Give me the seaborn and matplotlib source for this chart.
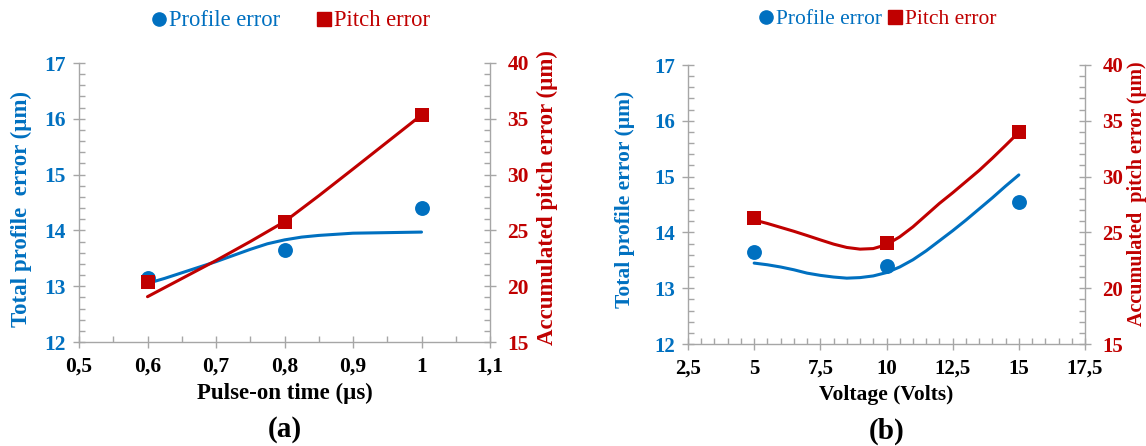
import matplotlib
matplotlib.use("Agg")
import matplotlib.pyplot as plt
from matplotlib.ticker import MultipleLocator, FuncFormatter
from matplotlib.lines import Line2D
import seaborn as sns
import pandas as pd

# ---------------- data ----------------
# Panel (a): pulse-on time
pulse_x = [0.6, 0.8, 1.0]
pulse_profile = [13.14, 13.64, 14.40]
pulse_pitch = [20.40, 25.78, 35.34]
# trend curves
pulse_fit_x = [0.6, 0.625, 0.65, 0.675, 0.70, 0.725, 0.75, 0.775, 0.80, 0.825,
               0.85, 0.875, 0.90, 0.95, 1.0]
pulse_fit_profile = [13.05, 13.14, 13.24, 13.34, 13.44, 13.55, 13.66, 13.76, 13.83,
                     13.88, 13.91, 13.93, 13.95, 13.96, 13.97]
pulse_fit_pitch_x = [0.6, 0.65, 0.70, 0.75, 0.80, 0.85, 0.90, 0.95, 1.0]
pulse_fit_pitch = [19.06, 20.68, 22.30, 24.00, 25.78, 28.10, 30.50, 32.92, 35.34]

# Panel (b): voltage
volt_x = [5, 10, 15]
volt_profile = [13.64, 13.39, 14.54]
volt_pitch = [26.26, 24.08, 33.97]
volt_fit_x = [5, 5.5, 6, 6.5, 7, 7.5, 8, 8.5, 9, 9.5, 10, 10.5, 11, 11.5, 12,
              12.5, 13, 13.5, 14, 14.5, 15]
volt_fit_profile = [13.45, 13.42, 13.38, 13.33, 13.27, 13.23, 13.20, 13.18, 13.19,
                    13.22, 13.28, 13.38, 13.51, 13.67, 13.85, 14.03, 14.22, 14.42,
                    14.62, 14.83, 15.03]
volt_fit_pitch_x = [5, 5.5, 6, 6.5, 7, 7.5, 8, 8.5, 9, 9.5, 10, 10.5, 11, 11.5, 12,
                    12.5, 13, 13.5, 14, 14.5, 15]
volt_fit_pitch = [26.11, 25.80, 25.45, 25.10, 24.72, 24.33, 23.95, 23.65, 23.50,
                  23.55, 23.90, 24.60, 25.50, 26.55, 27.60, 28.55, 29.55, 30.55,
                  31.65, 32.80, 33.97]

legend_labels = ["Profile error", "Pitch error"]
xlabels = ["Pulse-on time (\u00b5s)", "Voltage (Volts)"]
panel_tags = ["(a)", "(b)"]
ylabel_left_a = "Total profile  error (\u00b5m)"
ylabel_left_b = "Total profile error (\u00b5m)"
ylabel_right = "Accumulated pitch error (\u00b5m)"
ylabel_right_b = "Accumulated  pitch error (\u00b5m)"

BLUE = "#0070C0"
RED = "#C00000"
GREY = "#A6A6A6"

sns.set_theme(style="white")
plt.rcParams["font.family"] = ["Liberation Serif", "DejaVu Serif"]

fig = plt.figure(figsize=(11.46, 4.46), dpi=100)

comma_fmt = FuncFormatter(lambda v, p: f"{v:g}".replace(".", ","))


def style_axes(ax, ax2, xlim, xmajor, xminor, tfs):
    ax.set_xlim(*xlim)
    ax.set_ylim(12, 17)
    ax2.set_ylim(15, 40)
    ax.xaxis.set_major_locator(MultipleLocator(xmajor))
    ax.xaxis.set_minor_locator(MultipleLocator(xminor))
    ax.xaxis.set_major_formatter(comma_fmt)
    ax.yaxis.set_major_locator(MultipleLocator(1))
    ax.yaxis.set_minor_locator(MultipleLocator(0.2))
    ax2.yaxis.set_major_locator(MultipleLocator(5))
    ax2.yaxis.set_minor_locator(MultipleLocator(1))
    for a in (ax, ax2):
        for s in a.spines.values():
            s.set_color(GREY)
            s.set_linewidth(1.0)
        a.spines["top"].set_visible(False)
    ax.spines["right"].set_visible(False)
    ax2.spines["left"].set_visible(False)
    ax2.spines["bottom"].set_visible(False)
    ax.tick_params(axis="x", which="major", direction="inout", length=9, width=1,
                   color=GREY, labelsize=tfs, labelcolor="black", pad=6, bottom=True)
    ax.tick_params(axis="x", which="minor", direction="in", length=4, width=1,
                   color=GREY, bottom=True)
    ax.tick_params(axis="y", which="major", direction="inout", length=9, width=1,
                   color=GREY, labelsize=tfs, labelcolor=BLUE, pad=5, left=True)
    ax.tick_params(axis="y", which="minor", direction="in", length=4, width=1,
                   color=GREY, left=True)
    ax2.tick_params(axis="y", which="major", direction="inout", length=9, width=1,
                    color=GREY, labelsize=tfs, labelcolor=RED, pad=8, right=True)
    ax2.tick_params(axis="y", which="minor", direction="in", length=4, width=1,
                    color=GREY, right=True)
    for lab in ax.get_xticklabels() + ax.get_yticklabels() + ax2.get_yticklabels():
        lab.set_fontweight("bold")
    ax.grid(False)
    ax2.grid(False)


def draw_panel(rect, xs, prof, pitch, fx, fprof, fpx, fpitch, xlim, xmajor, xminor,
               xlabel, tag, ylab_left, ylab_right, lcoords, rcoords, leg_center,
               colspace, tfs, lfs, rfs, legfs, xlfs):
    ax = fig.add_axes(rect)
    ax2 = ax.twinx()
    ax.set_facecolor("none")
    ax2.set_facecolor("none")
    df_pts = pd.DataFrame({"x": xs, "profile": prof, "pitch": pitch})
    df_fit = pd.DataFrame({"x": fx, "profile": fprof})
    df_fitp = pd.DataFrame({"x": fpx, "pitch": fpitch})
    sns.lineplot(data=df_fit, x="x", y="profile", ax=ax, color=BLUE, lw=2.2,
                 sort=True, estimator=None)
    sns.lineplot(data=df_fitp, x="x", y="pitch", ax=ax2, color=RED, lw=2.2,
                 sort=True, estimator=None)
    sns.scatterplot(data=df_pts, x="x", y="profile", ax=ax, color=BLUE, marker="o",
                    s=115, linewidth=0, zorder=5)
    sns.scatterplot(data=df_pts, x="x", y="pitch", ax=ax2, color=RED, marker="s",
                    s=110, linewidth=0, zorder=5)
    style_axes(ax, ax2, xlim, xmajor, xminor, tfs)
    ax.set_xlabel(xlabel, fontsize=xlfs, fontweight="bold", color="black")
    ax.xaxis.set_label_coords(0.5, -0.183)
    ax.xaxis.label.set_va("center")
    ax.set_ylabel(ylab_left, fontsize=lfs, fontweight="bold", color=BLUE)
    ax.yaxis.set_label_coords(*lcoords)
    ax2.set_ylabel(ylab_right, fontsize=rfs, fontweight="bold", color=RED)
    ax2.yaxis.set_label_coords(*rcoords)
    ax.text(0.5, -0.312, tag, transform=ax.transAxes, ha="center", va="center",
            fontsize=21, fontweight="bold", color="black")
    handles = [
        Line2D([], [], marker="o", color=BLUE, lw=0, markersize=9.5),
        Line2D([], [], marker="s", color=RED, lw=0, markersize=9.5),
    ]
    fig.legend(handles, legend_labels, ncol=2, loc="center",
               bbox_to_anchor=leg_center, frameon=False, fontsize=legfs,
               handletextpad=0.05, columnspacing=colspace, handlelength=0.8,
               labelcolor=[BLUE, RED], borderpad=0)
    return ax, ax2


# panel (a)
draw_panel([79 / 1146, 104 / 446, 411 / 1146, 279 / 446],
           pulse_x, pulse_profile, pulse_pitch,
           pulse_fit_x, pulse_fit_profile, pulse_fit_pitch_x, pulse_fit_pitch,
           (0.5, 1.1), 0.1, 0.05, xlabels[0], panel_tags[0], ylabel_left_a,
           ylabel_right, (-0.114, 0.477), (1.114, 0.516),
           (290 / 1146, 1 - 21 / 446), 1.5, 15.5, 16.5, 16.5, 16.3, 16.5)

# panel (b)
draw_panel([688 / 1146, 102 / 446, 397 / 1146, 279 / 446],
           volt_x, volt_profile, volt_pitch,
           volt_fit_x, volt_fit_profile, volt_fit_pitch_x, volt_fit_pitch,
           (2.5, 17.5), 2.5, 0.5, xlabels[1], panel_tags[1], ylabel_left_b,
           ylabel_right_b, (-0.134, 0.52), (1.106, 0.54),
           (877 / 1146, 1 - 19 / 446), 0.2, 15, 15.5, 14.5, 15.5, 15.5)

fig.savefig("out.png", dpi=100, facecolor="white")
